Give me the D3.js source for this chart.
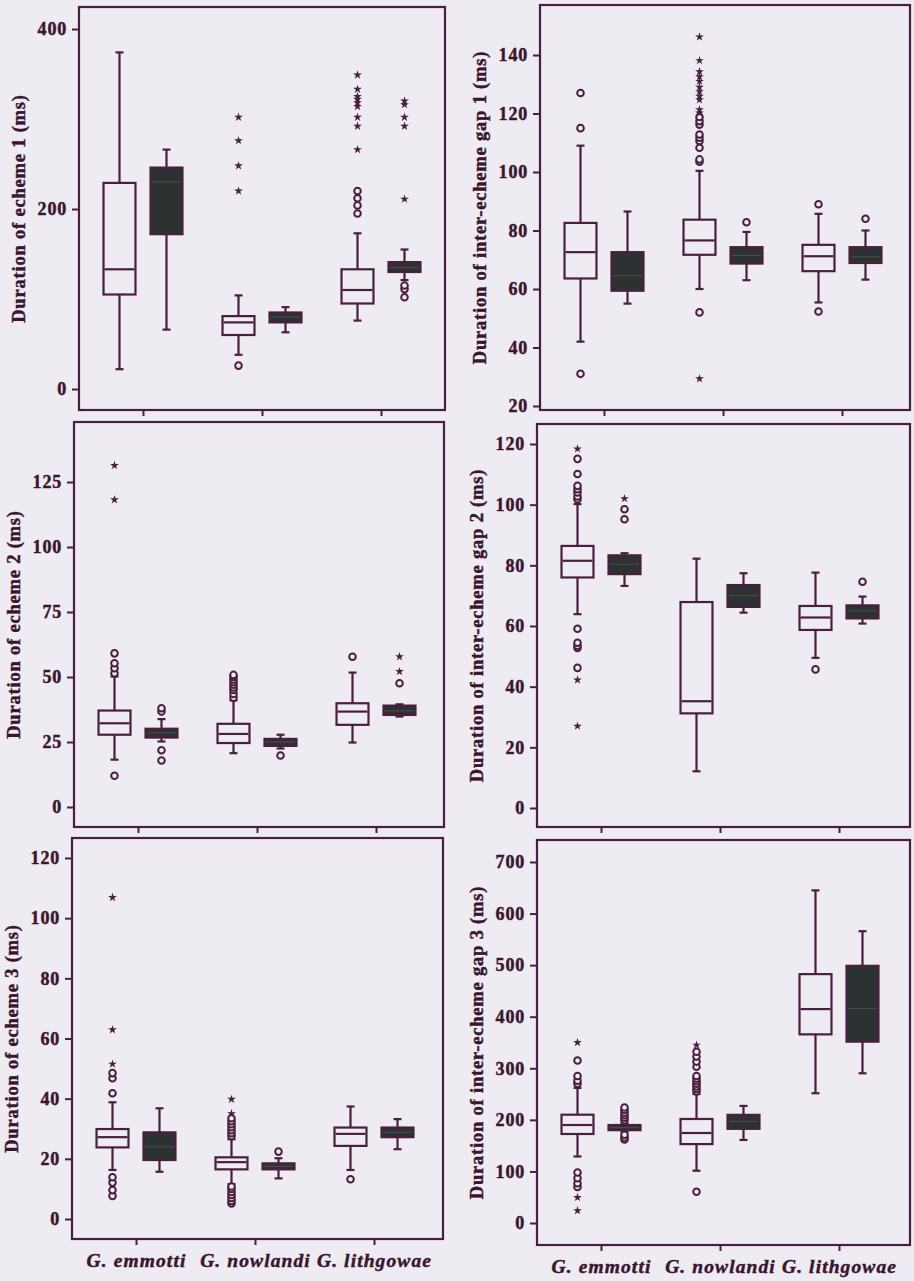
<!DOCTYPE html>
<html>
<head>
<meta charset="utf-8">
<script src="https://cdn.jsdelivr.net/npm/d3@7"></script>
<style>
  html, body { margin: 0; padding: 0; background: #eeecf2; }
  svg { display: block; }
</style>
</head>
<body>
<svg id="chart" width="914" height="1281"></svg>
<script>
// Species on the x axis; each species has an open and a filled box
const species = ["G. emmotti", "G. nowlandi", "G. lithgowae"];
const boxKinds = ["open", "filled"];

// Box statistics: [lower whisker, Q1, median, Q3, upper whisker]
// order: emmotti open, emmotti filled, nowlandi open, nowlandi filled, lithgowae open, lithgowae filled

// Duration of echeme 1
const echeme1Boxes = [
  [22, 105, 133, 229, 374], [66, 172, 230, 246, 266],
  [38, 60, 74, 81, 104], [63, 74, 80, 85, 91],
  [76, 95, 110, 133, 173], [121, 130, 135, 141, 155]
];
const echeme1Outliers = [[], [], [26], [], [195, 204, 212, 220], [102, 111, 115]];
const echeme1Extremes = [[], [], [220, 248, 276, 302], [], [266, 292, 302, 314, 318, 322, 325, 333, 349], [211, 292, 302, 316, 320]];
const echeme1Ticks = [0, 200, 400];

// Duration of inter-echeme gap 1
const gap1Boxes = [
  [42, 63.6, 72.6, 82.6, 109], [55, 59.4, 64.5, 72.6, 86.5],
  [60, 71.7, 76.6, 83.7, 100.4], [63, 68.7, 71.5, 74.3, 79.5],
  [55.4, 66.1, 71.2, 75.1, 85.7], [63.2, 68.9, 71, 74.3, 80]
];
const gap1Outliers = [[31, 115, 127], [], [52, 103.5, 104.3, 108.3, 110.6, 111.7, 112.8, 116.2, 117.4, 118.8], [82.8], [52.3, 89], [84]];
const gap1Extremes = [[], [], [29.3, 120.2, 121.3, 124.7, 125.9, 127.5, 129, 131, 132.6, 134.3, 138.1, 146.2], [], [], []];
const gap1Ticks = [20, 40, 60, 80, 100, 120, 140];

// Duration of echeme 2
const echeme2Boxes = [
  [18.2, 27.8, 32.2, 37.1, 50.2], [25.2, 26.7, 28.5, 30.1, 33.8],
  [20.7, 24.6, 28.1, 32, 41], [22.5, 23.5, 25, 26.2, 27.8],
  [24.8, 31.6, 36.7, 39.9, 51.7], [34.8, 35.4, 37, 39, 39.5]
];
const echeme2Outliers = [[12, 51.4, 53.4, 55.3, 59.1], [17.9, 21.8, 36.7, 38], [42, 43.5, 45, 46, 47, 48, 49, 50, 50.8], [19.8], [57.8], [47.6]];
const echeme2Extremes = [[118.2, 131.4], [], [], [], [], [52.1, 57.8]];
const echeme2Ticks = [0, 25, 50, 75, 100, 125];

// Duration of inter-echeme gap 2
const gap2Boxes = [
  [63.9, 76, 81.5, 86.4, 100.2], [73.2, 77.1, 80.4, 83.3, 84],
  [12.1, 31.2, 35.2, 67.9, 82.2], [64.4, 66.3, 70, 73.5, 77.4],
  [49.5, 58.7, 62.8, 66.6, 77.6], [60.8, 62.5, 65, 66.8, 69.7]
];
const gap2Outliers = [[46.2, 52.8, 53.5, 54.5, 59.1, 101.8, 102.7, 104, 105.1, 106.2, 110.1, 115.1], [95.2, 98.5], [], [], [45.7], [74.6]];
const gap2Extremes = [[27, 42.2, 118.4], [102], [], [], [], []];
const gap2Ticks = [0, 20, 40, 60, 80, 100, 120];

// Duration of echeme 3
const echeme3Boxes = [
  [16.3, 23.8, 27.2, 29.9, 38.8], [15.7, 19.6, 24, 28.8, 36.8],
  [11.6, 16.5, 18.9, 20.5, 26.5], [13.5, 16.5, 17.5, 18.5, 20.2],
  [16.3, 24.3, 28.3, 30.4, 37.4], [23.2, 27.2, 28.8, 30.4, 33.2]
];
const echeme3Outliers = [[7.7, 9.6, 12.1, 13.9, 41.8, 46.8, 48.5], [], [5.2, 6, 7, 8, 9, 10, 10.8, 27.5, 28.5, 29.5, 30.5, 31.5, 32.5, 33.5], [22.4], [13.2], []];
const echeme3Extremes = [[51.5, 62.9, 106.9], [], [35, 39.8], [], [], []];
const echeme3Ticks = [0, 20, 40, 60, 80, 100, 120];

// Duration of inter-echeme gap 3
const gap3Boxes = [
  [129, 172.6, 190, 210, 262], [176, 180, 185, 190, 194],
  [101.4, 153, 174.5, 201.7, 250], [161, 182.6, 197, 209.7, 227],
  [251.6, 365.8, 414.8, 482.6, 645], [290.3, 351.6, 416, 498.7, 565.8]
];
const gap3Outliers = [[70, 77, 87, 98, 270, 276, 285, 315], [162, 166, 171, 199, 204, 209, 214, 219, 224], [60.7, 255, 260, 265, 270, 275, 280, 285, 303, 313, 323, 332], [], [], []];
const gap3Extremes = [[24, 49.7, 350], [], [345], [], [], []];
const gap3Ticks = [0, 100, 200, 300, 400, 500, 600, 700];

// Panel layout: frame [left, top, right, bottom] and pixel rows of the first and last tick
const panels = [
  { title: "Duration of echeme 1 (ms)", boxes: echeme1Boxes, outliers: echeme1Outliers, extremes: echeme1Extremes, ticks: echeme1Ticks, frame: [79, 7, 445, 410], yPix: [389, 29], names: false },
  { title: "Duration of inter-echeme gap 1 (ms)", boxes: gap1Boxes, outliers: gap1Outliers, extremes: gap1Extremes, ticks: gap1Ticks, frame: [540, 5, 910, 410], yPix: [406, 55], names: false },
  { title: "Duration of echeme 2 (ms)", boxes: echeme2Boxes, outliers: echeme2Outliers, extremes: echeme2Extremes, ticks: echeme2Ticks, frame: [74, 422, 444, 827], yPix: [807, 482], names: false },
  { title: "Duration of inter-echeme gap 2 (ms)", boxes: gap2Boxes, outliers: gap2Outliers, extremes: gap2Extremes, ticks: gap2Ticks, frame: [537, 424, 910, 827], yPix: [808, 444], names: false },
  { title: "Duration of echeme 3 (ms)", boxes: echeme3Boxes, outliers: echeme3Outliers, extremes: echeme3Extremes, ticks: echeme3Ticks, frame: [72, 838, 443, 1239], yPix: [1219, 858], names: true },
  { title: "Duration of inter-echeme gap 3 (ms)", boxes: gap3Boxes, outliers: gap3Outliers, extremes: gap3Extremes, ticks: gap3Ticks, frame: [537, 840, 910, 1245], yPix: [1223, 862], names: true }
];

const ink = "#4a1f3d";
const textInk = "#3a1530";
const darkFill = "#2c3131";
const paper = "#eeecf2";
const serif = "'Liberation Serif', 'Times New Roman', serif";

const svg = d3.select("#chart");
svg.append("rect").attr("width", 914).attr("height", 1281).attr("fill", paper);

const kindScale = d3.scaleBand().domain(boxKinds).range([-47, 47]).paddingInner(0.32).paddingOuter(0.16);
const boxW = kindScale.bandwidth();
const capW = 8;
const star = d3.symbol().type(d3.symbolStar).size(24);

// bold serif text with a light outline so it reads as heavy as print type
function heavyText(sel, size, spacing) {
  return sel.attr("fill", textInk).attr("stroke", textInk).attr("stroke-width", 0.45)
    .attr("font-family", serif).attr("font-weight", "bold")
    .attr("font-size", size).attr("letter-spacing", spacing);
}

panels.forEach(p => {
  const [L, T, R, B] = p.frame;
  const g = svg.append("g");

  const y = d3.scaleLinear()
    .domain([p.ticks[0], p.ticks[p.ticks.length - 1]])
    .range(p.yPix);
  const x = d3.scalePoint().domain(species).range([L + 64, L + 302]);

  // frame
  g.append("rect")
    .attr("x", L).attr("y", T).attr("width", R - L).attr("height", B - T)
    .attr("fill", "none").attr("stroke", ink).attr("stroke-width", 2.2);

  // y axis
  const ya = g.append("g").attr("transform", `translate(${L},0)`)
    .call(d3.axisLeft(y).tickValues(p.ticks).tickSize(7).tickPadding(5).tickSizeOuter(0));
  ya.select(".domain").remove();
  ya.selectAll(".tick line").attr("stroke", ink).attr("stroke-width", 2);
  heavyText(ya.selectAll(".tick text"), 18, "0.8px");

  // x axis
  const xa = g.append("g").attr("transform", `translate(0,${B})`)
    .call(d3.axisBottom(x).tickSize(6).tickPadding(8).tickSizeOuter(0)
      .tickFormat(p.names ? (d => d) : () => ""));
  xa.select(".domain").remove();
  xa.selectAll(".tick line").attr("stroke", ink).attr("stroke-width", 2);
  heavyText(xa.selectAll(".tick text").attr("font-style", "italic"), 19.5, "1.1px");

  // axis title
  heavyText(g.append("text")
    .attr("transform", `translate(${L - 60},${(T + B) / 2}) rotate(-90)`)
    .attr("text-anchor", "middle").attr("dy", "0.35em"), 18.5, "0.8px")
    .text(p.title);

  // boxes
  const items = p.boxes.map((s, i) => ({
    stats: s,
    kind: boxKinds[i % 2],
    cx: x(species[Math.floor(i / 2)]) + kindScale(boxKinds[i % 2]) + boxW / 2,
    outliers: p.outliers[i],
    extremes: p.extremes[i]
  }));

  const box = g.selectAll("g.box").data(items).join("g").attr("class", "box");

  // whiskers
  box.append("line")
    .attr("x1", d => d.cx).attr("x2", d => d.cx)
    .attr("y1", d => y(d.stats[0])).attr("y2", d => y(d.stats[1]))
    .attr("stroke", ink).attr("stroke-width", 2.2);
  box.append("line")
    .attr("x1", d => d.cx).attr("x2", d => d.cx)
    .attr("y1", d => y(d.stats[3])).attr("y2", d => y(d.stats[4]))
    .attr("stroke", ink).attr("stroke-width", 2.2);
  [0, 4].forEach(k => {
    box.append("line")
      .attr("x1", d => d.cx - capW / 2).attr("x2", d => d.cx + capW / 2)
      .attr("y1", d => y(d.stats[k])).attr("y2", d => y(d.stats[k]))
      .attr("stroke", ink).attr("stroke-width", 2.2);
  });

  // box body
  box.append("rect")
    .attr("x", d => d.cx - boxW / 2).attr("width", boxW)
    .attr("y", d => y(d.stats[3]))
    .attr("height", d => Math.max(2, y(d.stats[1]) - y(d.stats[3])))
    .attr("fill", d => d.kind === "open" ? paper : darkFill)
    .attr("stroke", ink).attr("stroke-width", 2.2);

  // median
  box.append("line")
    .attr("x1", d => d.cx - boxW / 2 + 1).attr("x2", d => d.cx + boxW / 2 - 1)
    .attr("y1", d => y(d.stats[2])).attr("y2", d => y(d.stats[2]))
    .attr("stroke", d => d.kind === "open" ? ink : "#4f4650")
    .attr("stroke-width", d => d.kind === "open" ? 2.2 : 1.2);

  // outliers as open circles, extremes as stars
  box.each(function(d) {
    d3.select(this).selectAll("circle.out").data(d.outliers).join("circle")
      .attr("class", "out")
      .attr("cx", d.cx).attr("cy", v => y(v)).attr("r", 3.3)
      .attr("fill", paper).attr("stroke", ink).attr("stroke-width", 2);
    d3.select(this).selectAll("path.ext").data(d.extremes).join("path")
      .attr("class", "ext")
      .attr("d", star)
      .attr("transform", v => `translate(${d.cx},${y(v)})`)
      .attr("fill", ink);
  });
});
</script>
</body>
</html>
